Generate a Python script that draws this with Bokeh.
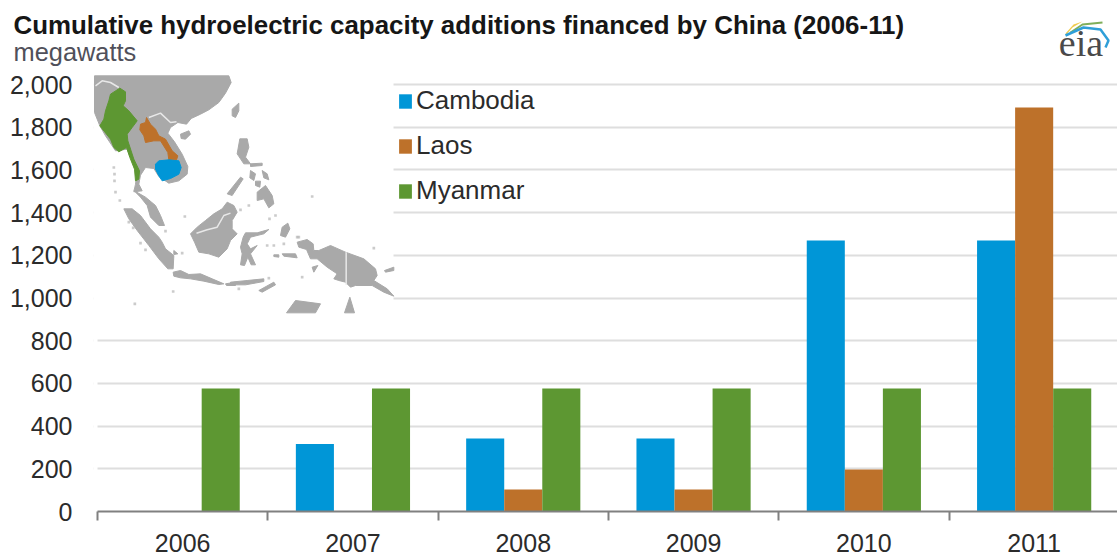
from bokeh.embed import file_html
from bokeh.layouts import column
from bokeh.resources import INLINE
from bokeh.plotting import figure
from bokeh.models import (ColumnDataSource, FixedTicker, Grid, Label, Legend, LegendItem,
                          LinearAxis, NumeralTickFormatter, Range1d)

# Chart content
TITLE = "Cumulative hydroelectric capacity additions financed by China (2006-11)"
UNIT = "megawatts"
years = ["2006", "2007", "2008", "2009", "2010", "2011"]
cambodia = [0, 316, 342, 342, 1269, 1269]
laos = [0, 0, 103, 103, 197, 1892]
myanmar = [576, 576, 576, 576, 576, 576]
y_ticks = [0, 200, 400, 600, 800, 1000, 1200, 1400, 1600, 1800, 2000]

BLUE, ORANGE, GREEN = "#0096d7", "#bd712a", "#5d9732"
MAP_GRAY = "#a9a9a9"


def tile(x0, y0, pts):
    """Outline given in a 3x map tile, returned as page pixel columns."""
    return [x0 + p[0] / 3 for p in pts], [y0 + p[1] / 3 for p in pts]


def north(pts):
    return tile(90, 72, pts)


def south(pts):
    return tile(90, 190, pts)


def islands(pts):
    return tile(200, 120, pts)


def east(pts):
    return tile(230, 225, pts)


def dot(fn, x, y, r=4):
    return fn([(x - r, y - r), (x + r, y - r), (x + r, y + r), (x - r, y + r)])


land = [
    north([(12, 10), (415, 10), (422, 30), (405, 62), (385, 90), (355, 112), (330, 125), (302, 138), (288, 155),
           (262, 150), (240, 165), (232, 182), (252, 208), (275, 245), (292, 282), (290, 305), (265, 325), (235, 332),
           (205, 312), (190, 288), (165, 285), (150, 308), (145, 335), (155, 355), (130, 358), (135, 335), (140, 300),
           (110, 230), (75, 235), (45, 190), (28, 160), (12, 120)]),
    north([(270, 185), (295, 175), (300, 185), (285, 200), (272, 198)]),
    north([(425, 110), (445, 92), (445, 115), (435, 135), (425, 130)]),
    south([(130, 0), (165, 20), (195, 45), (210, 75), (222, 105), (205, 105), (180, 80), (170, 45), (150, 20)]),
    south([(100, 55), (125, 55), (150, 75), (180, 115), (205, 140), (215, 155), (225, 175), (250, 195), (248, 235),
           (232, 235), (205, 205), (175, 165), (140, 120), (115, 85)]),
    south([(300, 130), (320, 110), (345, 90), (370, 70), (395, 55), (410, 35), (430, 45), (440, 65), (425, 90),
           (425, 115), (440, 130), (420, 150), (410, 175), (385, 200), (355, 190), (325, 185), (312, 155)]),
    south([(248, 245), (270, 240), (295, 252), (330, 250), (365, 265), (400, 280), (385, 282), (340, 272), (300, 265),
           (270, 262), (250, 257)]),
    south([(405, 280), (435, 275), (435, 285), (408, 285)]),
    south([(250, 180), (262, 190), (250, 192)]),
    islands([(118, 55), (140, 55), (145, 80), (135, 110), (150, 130), (130, 130), (110, 100)]),
    islands([(150, 150), (165, 160), (160, 180), (148, 172)]),
    islands([(185, 150), (200, 160), (205, 178), (190, 172)]),
    islands([(165, 182), (180, 182), (178, 200), (165, 195)]),
    islands([(150, 130), (185, 128), (185, 135), (150, 138)]),
    islands([(170, 215), (195, 195), (215, 225), (220, 250), (205, 262), (190, 235), (170, 240)]),
    islands([(80, 220), (120, 170), (128, 175), (95, 225)]),
    islands([(245, 320), (262, 308), (268, 325), (255, 350), (240, 345)]),
    east([(45, 22), (80, 22), (115, 12), (100, 25), (60, 35), (50, 55), (60, 70), (80, 60), (60, 85), (75, 118),
          (62, 118), (52, 95), (42, 120), (30, 118), (35, 85), (30, 65), (38, 35)]),
    east([(200, 50), (230, 42), (248, 55), (250, 75), (265, 75), (300, 60), (345, 80), (400, 100), (435, 130),
          (440, 150), (430, 165), (470, 190), (490, 212), (460, 200), (425, 180), (375, 180), (360, 185), (345, 170),
          (325, 165), (310, 160), (320, 145), (290, 125), (260, 100), (240, 100), (228, 72), (205, 65)]),
    east([(155, 85), (195, 85), (200, 97), (160, 92)]),
    east([(130, 88), (145, 88), (145, 95), (130, 93)]),
    east([(85, 195), (130, 170), (135, 178), (95, 200)]),
    east([(0, 170), (50, 165), (100, 160), (100, 168), (45, 178), (0, 178)]),
    east([(245, 125), (262, 120), (250, 140)]),
    east([(462, 135), (490, 125), (490, 135), (465, 140)]),
    east([(168, 262), (195, 225), (270, 235), (255, 262)]),
    east([(342, 262), (358, 215), (372, 262)]),
]
land_x = [s[0] for s in land]
land_y = [s[1] for s in land]

# Tiny islets fade out at this scale
islets = [
    dot(north, 70, 285), dot(north, 72, 305), dot(north, 72, 325),
    dot(south, 75, 5), dot(south, 88, 30), dot(south, 115, 95), dot(south, 128, 112), dot(south, 150, 158),
    dot(south, 165, 178), dot(south, 275, 188), dot(south, 283, 78), dot(south, 225, 122), dot(south, 248, 303),
    dot(south, 133, 340),
    dot(islands, 120, 268), dot(islands, 145, 255), dot(islands, 335, 228), dot(islands, 225, 285),
    dot(islands, 207, 295), dot(islands, 290, 350),
    dot(east, 215, 155), dot(east, 205, 35), dot(east, 110, 60), dot(east, 130, 60), dot(east, 160, 55),
    dot(east, 25, 190), dot(east, 115, 158), dot(east, 430, 68),
]
islet_x = [s[0] for s in islets]
islet_y = [s[1] for s in islets]

borders = [
    north([(15, 40), (35, 25), (60, 30), (85, 45)]),
    north([(175, 135), (210, 122), (240, 150), (258, 148)]),
    south([(318, 128), (350, 118), (380, 110), (400, 75), (420, 68)]),
    east([(347, 80), (347, 178)]),
]
border_x = [s[0] for s in borders]
border_y = [s[1] for s in borders]

myanmar_x, myanmar_y = north([(88, 47), (105, 58), (105, 85), (98, 100), (115, 115), (140, 145), (125, 165), (110, 185),
                              (112, 205), (130, 260), (147, 295), (145, 320), (135, 325), (132, 290), (118, 255),
                              (108, 225), (85, 238), (70, 225), (60, 200), (28, 160), (40, 140), (45, 115), (55, 85),
                              (60, 65)])
laos_x, laos_y = north([(168, 135), (180, 155), (195, 170), (205, 190), (225, 200), (245, 235), (262, 250), (258, 262),
                        (235, 262), (232, 240), (210, 205), (190, 205), (165, 210), (160, 190), (148, 172), (150, 155),
                        (165, 150)])
cambodia_x, cambodia_y = north([(195, 275), (205, 265), (235, 262), (265, 265), (272, 285), (265, 305), (240, 318),
                                (215, 325), (205, 310), (195, 290)])

# Agency mark
sun_x = [1065, 1073, 1082, 1072, 1066]
sun_y = [33, 24, 21, 27, 34]
green_arc_x = [1070, 1082, 1102]
green_arc_y = [32, 24, 22]
blue_arc_x = [1065, 1083, 1100, 1108, 1105]
blue_arc_y = [35, 27, 29, 40, 47]

CENTERS = [i + 0.5 for i in range(len(years))]
BAR_W = 0.2235
HEADER_H = 70

# Header strip: title, unit and agency mark
header = figure(width=1117, height=HEADER_H, output_backend="svg", toolbar_location=None,
                x_range=Range1d(0, 1117), y_range=Range1d(HEADER_H, 0),
                x_axis_type=None, y_axis_type=None, frame_align=False,
                min_border_left=0, min_border_right=0, min_border_top=0, min_border_bottom=0,
                background_fill_color="white", border_fill_color="white", outline_line_color=None)
header.add_layout(Label(x=13, y=24, text=TITLE, text_font="Liberation Sans", text_font_style="bold",
                        text_font_size="25.9px", text_color="#161616", text_baseline="middle"))
header.add_layout(Label(x=13, y=51, text=UNIT, text_font="Liberation Sans", text_font_size="25.4px",
                        text_color="#50505a", text_baseline="middle"))
header.patch(sun_x, sun_y, fill_color="#f0cc50", line_color=None)
header.line(green_arc_x, green_arc_y, line_color="#7fae5a", line_width=2)
header.line(blue_arc_x, blue_arc_y, line_color="#2f9fd8", line_width=2.5)
header.add_layout(Label(x=1080.5, y=42, text="eia", text_font="Liberation Serif", text_font_size="38px",
                        text_color="#4a4a4a", text_align="center", text_baseline="alphabetic"))

# Main chart
p = figure(width=1117, height=558 - HEADER_H, output_backend="svg", toolbar_location=None,
           x_range=Range1d(-4 / 170.3, 1020 / 170.3), y_range=Range1d(0, (511 - HEADER_H) * 2000 / 427),
           x_axis_type=None, y_axis_type=None, frame_align=False,
           min_border_left=93, min_border_right=0, min_border_top=0, min_border_bottom=47,
           background_fill_color="white", border_fill_color="white", outline_line_color=None)

p.extra_x_ranges = {"page": Range1d(93, 1117)}
p.extra_y_ranges = {"page": Range1d(511, HEADER_H)}

x_axis = LinearAxis(ticker=FixedTicker(ticks=CENTERS, minor_ticks=list(range(7))),
                    major_label_overrides={c: y for c, y in zip(CENTERS, years)},
                    bounds=(0, 6), major_tick_in=0, major_tick_out=0,
                    minor_tick_in=0, minor_tick_out=9, minor_tick_line_color="#808080",
                    minor_tick_line_width=2, axis_line_color="#808080", axis_line_width=2,
                    major_label_text_font="Liberation Sans", major_label_text_font_size="25px",
                    major_label_text_color="#2b2b2b", major_label_standoff=13)
p.add_layout(x_axis, "below")

y_axis = LinearAxis(ticker=FixedTicker(ticks=y_ticks), formatter=NumeralTickFormatter(format="0,0"),
                    axis_line_color=None, major_tick_line_color=None, minor_tick_line_color=None,
                    major_tick_in=0, major_tick_out=0, bounds=(0, 2000),
                    major_label_text_font="Liberation Sans", major_label_text_font_size="25px",
                    major_label_text_color="#2b2b2b", major_label_standoff=21)
p.add_layout(y_axis, "left")

p.add_layout(Grid(dimension=1, ticker=FixedTicker(ticks=y_ticks[1:]),
                  grid_line_color="#dedede", grid_line_width=2))

# White panel behind the locator map, plus the margin left of the axis start
p.quad(left=[93, 93], right=[97, 393], top=[511, HEADER_H], bottom=[HEADER_H, 312],
       fill_color="white", line_color=None, x_range_name="page", y_range_name="page")

# Locator map
p.patches(land_x, land_y, fill_color=MAP_GRAY, line_color=MAP_GRAY, line_width=1,
          x_range_name="page", y_range_name="page")
p.patches(islet_x, islet_y, fill_color=MAP_GRAY, fill_alpha=0.6, line_color=None,
          x_range_name="page", y_range_name="page")
p.multi_line(border_x, border_y, line_color="#e8e8e8", line_width=1.5, x_range_name="page", y_range_name="page")
p.patch(myanmar_x, myanmar_y, fill_color=GREEN, line_color=GREEN, line_width=1, x_range_name="page", y_range_name="page")
p.patch(laos_x, laos_y, fill_color=ORANGE, line_color=ORANGE, line_width=1, x_range_name="page", y_range_name="page")
p.patch(cambodia_x, cambodia_y, fill_color=BLUE, line_color=BLUE, line_width=1, x_range_name="page", y_range_name="page")

# Bars
source = ColumnDataSource(dict(
    cambodia_x=[c - BAR_W for c in CENTERS], laos_x=CENTERS, myanmar_x=[c + BAR_W for c in CENTERS],
    cambodia=cambodia, laos=laos, myanmar=myanmar))
r1 = p.vbar(x="cambodia_x", top="cambodia", width=BAR_W, source=source, fill_color=BLUE, line_color=None)
r2 = p.vbar(x="laos_x", top="laos", width=BAR_W, source=source, fill_color=ORANGE, line_color=None)
r3 = p.vbar(x="myanmar_x", top="myanmar", width=BAR_W, source=source, fill_color=GREEN, line_color=None)

legend = Legend(items=[LegendItem(label="Cambodia", renderers=[r1]),
                       LegendItem(label="Laos", renderers=[r2]),
                       LegendItem(label="Myanmar", renderers=[r3])],
                location=(304, 305), orientation="vertical", padding=0, margin=0, spacing=14,
                glyph_width=16, glyph_height=18, label_standoff=3,
                label_text_font="Liberation Sans", label_text_font_size="26px",
                label_text_color="#2b2b2b", label_text_baseline="middle",
                background_fill_alpha=0, border_line_color=None)
p.add_layout(legend, "center")

open("out.html", "w").write(file_html(column(header, p, spacing=0), INLINE))
